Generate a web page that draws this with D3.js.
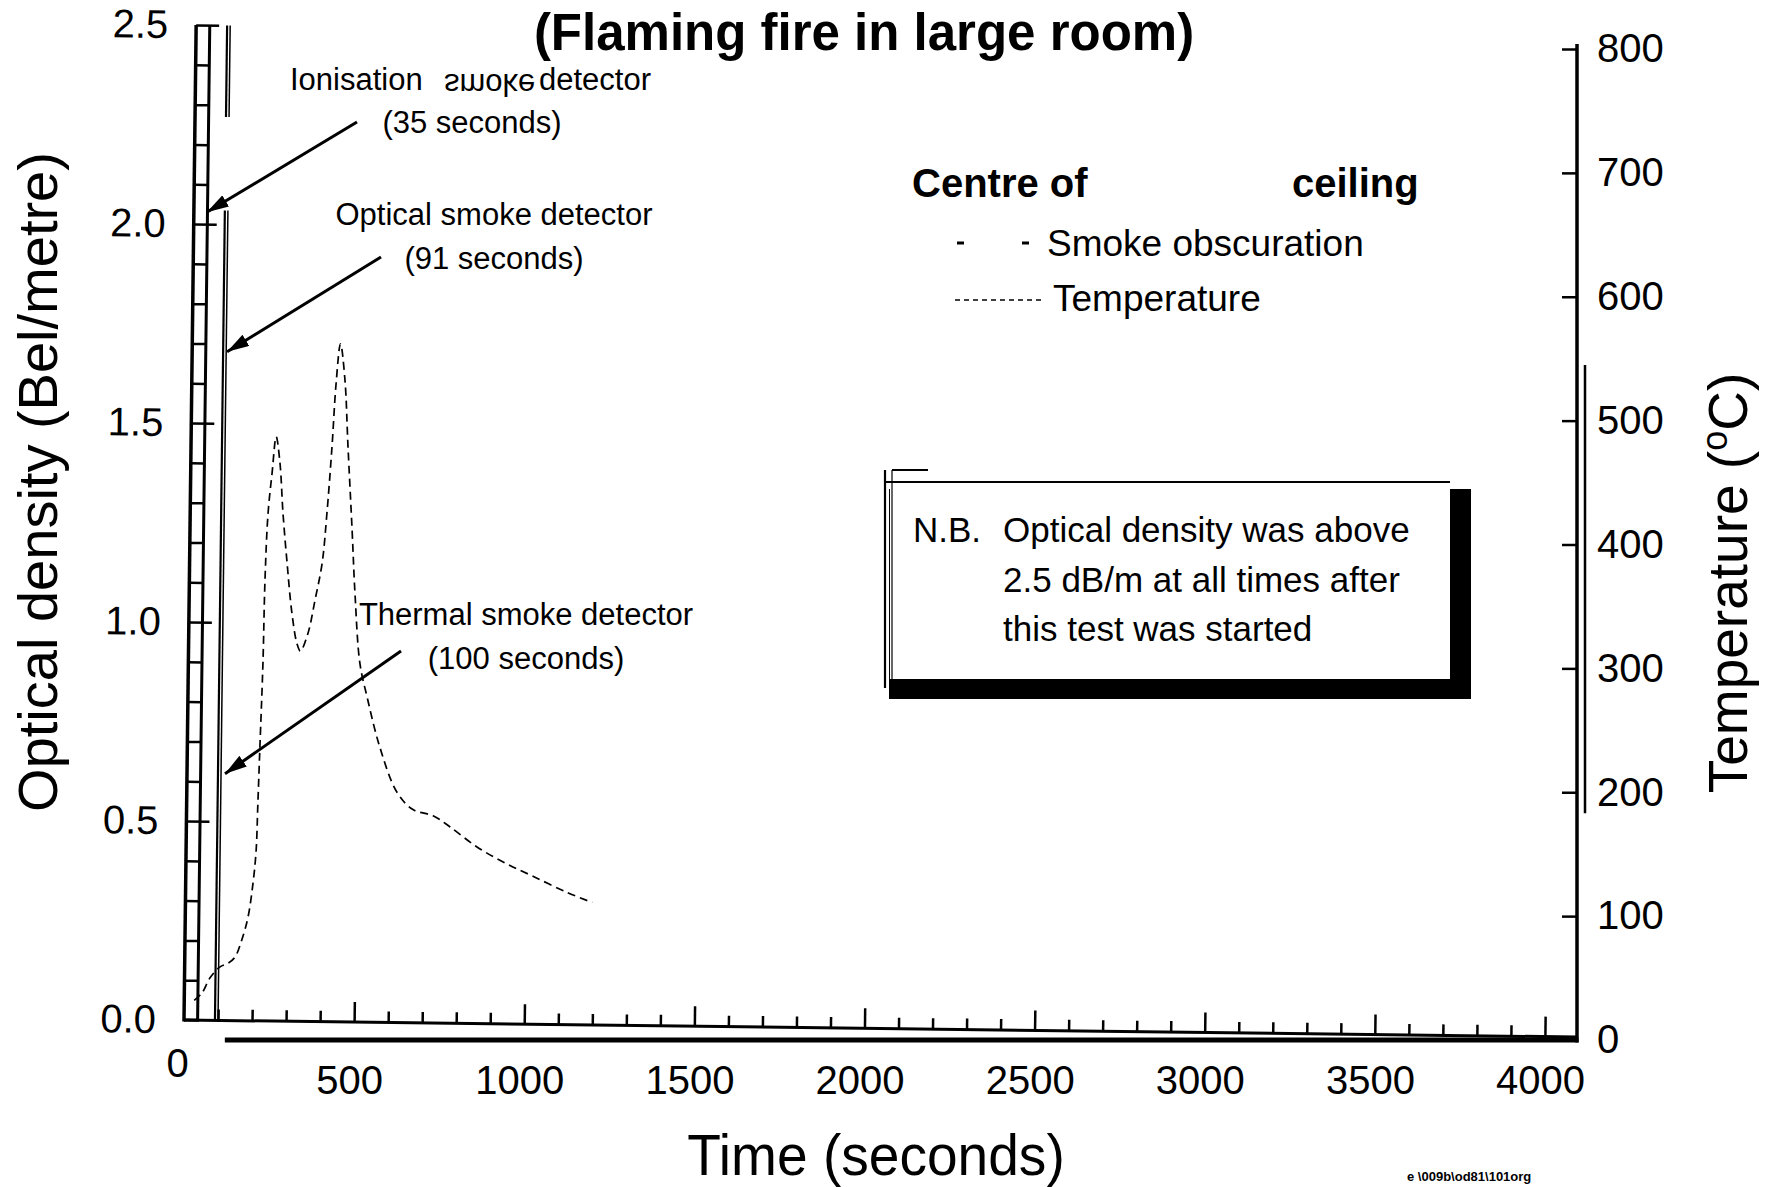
<!DOCTYPE html>
<html><head><meta charset="utf-8">
<script src="https://cdn.jsdelivr.net/npm/d3@7"></script>
<style>
body{margin:0;background:#fff;}
svg{display:block;font-family:"Liberation Sans",Arial,sans-serif;}
</style></head><body>
<svg id="chart" width="1779" height="1187"></svg>
<script>
// ---------------- data ----------------
const titleText = "(Flaming fire in large room)";
const xTitle = "Time (seconds)";
const yLeftTitle = "Optical density (Bel/metre)";
const timeTicks = [0, 500, 1000, 1500, 2000, 2500, 3000, 3500, 4000];
const odTicks = [0, 0.5, 1.0, 1.5, 2.0, 2.5];
const tempTicks = [0, 100, 200, 300, 400, 500, 600, 700, 800];
// Temperature at centre of ceiling (deg C) against time (s)
const tempTime  = [30, 53, 76, 106, 130, 150, 170, 188, 203, 212, 217, 223, 232, 238, 247, 259, 271, 282, 291, 303, 317, 332, 342, 364, 385, 406, 420, 435, 447, 460, 473, 482, 494, 503, 517, 538, 576, 626, 673, 732, 782, 860, 943, 1027, 1127, 1200];
const tempValue = [32, 38, 50, 59, 62, 67, 81, 99, 127, 153, 190, 236, 304, 371, 425, 458, 487, 466, 425, 385, 345, 320, 314, 328, 355, 385, 425, 479, 530, 562, 533, 479, 412, 358, 304, 277, 236, 200, 186, 181, 172, 156, 143, 132, 119, 111];
// Smoke obscuration (optical density): off scale (>2.5) almost at once
const smokeTime = [0, 40, 40];
const smokeOD   = [0, 0, 2.5];
// Detector activations
const detectorLabels = ["Ionisation smoke detector", "Optical smoke detector", "Thermal smoke detector"];
const detectorTimes  = [35, 91, 100];
const detectorArrowOD = [2.03, 1.68, 0.62];
const legendLabels = ["Smoke obscuration", "Temperature"];
const noteLines = ["Optical density was above", "2.5 dB/m at all times after", "this test was started"];

// ---------------- drawing ----------------
const W = 1779, H = 1187;
const svg = d3.select("#chart");
svg.append("rect").attr("width", W).attr("height", H).attr("fill", "#fff");

const x  = d3.scaleLinear().domain([0, 4000]).range([184, 1545]);
const yL = d3.scaleLinear().domain([0, 2.5]).range([1020, 25]);
const yR = d3.scaleLinear().domain([0, 800]).range([1040, 49]);
const rightX = 1577;

// scanned original is slightly rotated
const rotDeg = 0.7, ox = x(0), oy = yL(0), rad = rotDeg * Math.PI / 180;
function rot(px, py) {
  const dx = px - ox, dy = py - oy;
  return [ox + dx * Math.cos(rad) - dy * Math.sin(rad), oy + dx * Math.sin(rad) + dy * Math.cos(rad)];
}

const defs = svg.append("defs");
defs.append("marker").attr("id", "ah").attr("viewBox", "0 0 10 10")
  .attr("refX", 10).attr("refY", 5).attr("markerWidth", 22).attr("markerHeight", 13)
  .attr("markerUnits", "userSpaceOnUse").attr("orient", "auto")
  .attr("preserveAspectRatio", "none")
  .append("path").attr("d", "M0,0L10,5L0,10Z").attr("fill", "#000");

function styleAxis(g, sw) {
  g.select(".domain").remove();
  g.selectAll(".tick line").attr("stroke", "#000").attr("stroke-width", sw);
  g.selectAll("text").attr("fill", "#000");
}

// ---- rotated plot group ----
const plot = svg.append("g").attr("transform", `rotate(${rotDeg},${ox},${oy})`);

// left axis ladder (minor rungs reach the smoke obscuration rail)
const odMinor = d3.range(1, 25).map(i => i / 10).filter(v => Math.round(v * 10) % 5 !== 0);
plot.append("g").attr("transform", `translate(${x(0)},0)`)
  .call(d3.axisRight(yL).tickValues(odMinor).tickSize(x(smokeTime[1]) - x(0)).tickFormat(""))
  .call(g => styleAxis(g, 2.5));
plot.append("g").attr("transform", `translate(${x(0)},0)`)
  .call(d3.axisRight(yL).tickValues(odTicks.filter(v => v > 0)).tickSize(23).tickFormat(""))
  .call(g => styleAxis(g, 2.5));
plot.append("g").attr("transform", `translate(${x(0)},0)`)
  .attr("font-family", "'Liberation Sans',Arial,sans-serif")
  .call(d3.axisLeft(yL).tickValues(odTicks).tickSize(0).tickPadding(28).tickFormat(d3.format(".1f")))
  .call(g => styleAxis(g, 0))
  .attr("font-size", 40);
plot.append("line").attr("x1", x(0)).attr("x2", x(0)).attr("y1", yL(0) + 1.5).attr("y2", yL(2.5))
  .attr("stroke", "#000").attr("stroke-width", 3.5);

// smoke obscuration rail
plot.append("path").datum(smokeTime.map((t, i) => [t, smokeOD[i]]))
  .attr("d", d3.line().x(d => x(d[0])).y(d => yL(d[1])))
  .attr("fill", "none").attr("stroke", "#000").attr("stroke-width", 3);

// detector activation lines (optical, thermal)
detectorTimes.slice(1).forEach((t, i) => {
  [[0, 2.035], [2.27, 2.5]].forEach(([a, b]) => {
    plot.append("line").attr("x1", x(t)).attr("x2", x(t)).attr("y1", yL(a)).attr("y2", yL(b))
      .attr("stroke", "#000").attr("stroke-width", i === 0 ? 2.2 : 1.5);
  });
});

// x axis ticks (upwards)
const timeMinor = d3.range(100, 4001, 100).filter(v => v % 500 !== 0);
plot.append("g").attr("transform", `translate(0,${yL(0)})`)
  .call(d3.axisTop(x).tickValues(timeMinor).tickSize(11).tickFormat(""))
  .call(g => styleAxis(g, 2.5));
plot.append("g").attr("transform", `translate(0,${yL(0)})`)
  .call(d3.axisTop(x).tickValues(timeTicks.filter(v => v > 0)).tickSize(20).tickFormat(""))
  .call(g => styleAxis(g, 2.5));
plot.append("line").attr("x1", x(0)).attr("x2", rightX).attr("y1", yL(0)).attr("y2", yL(0))
  .attr("stroke", "#000").attr("stroke-width", 3);

// ---- unrotated frame ----
// bottom frame line
svg.append("line").attr("x1", x(120)).attr("x2", rightX + 1.5).attr("y1", yR(0)).attr("y2", yR(0))
  .attr("stroke", "#000").attr("stroke-width", 5);
// x tick labels
svg.append("g").attr("transform", `translate(0,${yR(0)})`)
  .call(d3.axisBottom(x).tickValues(timeTicks).tickSize(0).tickPadding(26).tickFormat(d3.format("d")))
  .call(g => styleAxis(g, 0))
  .attr("font-size", 40).attr("font-family", "'Liberation Sans',Arial,sans-serif")
  .call(g => g.selectAll("text").attr("dx", -5))
  .call(g => g.selectAll("text").filter(d => d === 0).attr("dx", -7).attr("y", 9));

// right temperature axis
svg.append("g").attr("transform", `translate(${rightX},0)`)
  .call(d3.axisRight(yR).tickValues(tempTicks).tickSizeInner(-15).tickSizeOuter(0).tickPadding(20))
  .call(g => styleAxis(g, 2.5))
  .attr("font-size", 40).attr("font-family", "'Liberation Sans',Arial,sans-serif")
  .call(g => g.selectAll("text").attr("text-anchor", "start"));
svg.append("line").attr("x1", rightX).attr("x2", rightX).attr("y1", yR(0) + 2.5).attr("y2", yR(800) - 5)
  .attr("stroke", "#000").attr("stroke-width", 3.5);
svg.append("line").attr("x1", rightX + 8).attr("x2", rightX + 8).attr("y1", yR(545)).attr("y2", yR(183))
  .attr("stroke", "#000").attr("stroke-width", 2.5);

// temperature curve
svg.append("path").datum(tempTime.map((t, i) => [t, tempValue[i]]))
  .attr("d", d3.line().x(d => x(d[0])).y(d => yR(d[1])).curve(d3.curveCatmullRom.alpha(0.5)))
  .attr("fill", "none").attr("stroke", "#000").attr("stroke-width", 1.7).attr("stroke-dasharray", "8 5");

// title
svg.append("text").attr("x", 864).attr("y", 50).attr("text-anchor", "middle")
  .attr("font-size", 51).attr("font-weight", "bold").text(titleText);

// axis titles
svg.append("text").attr("transform", "translate(876,1175) scale(0.95,1)").attr("text-anchor", "middle")
  .attr("font-size", 58).text(xTitle);
svg.append("text").attr("transform", "translate(57,482) rotate(-90)").attr("text-anchor", "middle")
  .attr("font-size", 56).text(yLeftTitle);
const rt = svg.append("text").attr("transform", "translate(1747,583) rotate(-90)").attr("text-anchor", "middle")
  .attr("font-size", 55);
rt.append("tspan").text("Temperature (");
rt.append("tspan").attr("dy", -20).attr("font-size", 36).text("o");
rt.append("tspan").attr("dy", 20).text("C)");

// annotations
const annFont = 31;
// ionisation: "smoke" appears mirrored in the original scan
const ionWords = detectorLabels[0].split(" ");
svg.append("text").attr("x", 290).attr("y", 90).attr("font-size", annFont).text(ionWords[0]);
svg.append("text").attr("transform", "translate(444,74) scale(1,-1)").attr("font-size", annFont).text(ionWords[1]);
svg.append("text").attr("x", 539).attr("y", 90).attr("font-size", annFont).text(ionWords[2]);
svg.append("text").attr("x", 472).attr("y", 133).attr("text-anchor", "middle").attr("font-size", annFont)
  .text(`(${detectorTimes[0]} seconds)`);

svg.append("text").attr("x", 494).attr("y", 225).attr("text-anchor", "middle").attr("font-size", annFont).text(detectorLabels[1]);
svg.append("text").attr("x", 494).attr("y", 269).attr("text-anchor", "middle").attr("font-size", annFont).text(`(${detectorTimes[1]} seconds)`);
svg.append("text").attr("x", 526).attr("y", 625).attr("text-anchor", "middle").attr("font-size", annFont).text(detectorLabels[2]);
svg.append("text").attr("x", 526).attr("y", 669).attr("text-anchor", "middle").attr("font-size", annFont).text(`(${detectorTimes[2]} seconds)`);

const arrowTails = [[357, 122], [381, 257], [401, 651]];
const tipOffsets = [1, 4, 4];
detectorTimes.forEach((t, i) => {
  const tip = rot(x(t) + tipOffsets[i], yL(detectorArrowOD[i]));
  svg.append("line").attr("x1", arrowTails[i][0]).attr("y1", arrowTails[i][1])
    .attr("x2", tip[0]).attr("y2", tip[1])
    .attr("stroke", "#000").attr("stroke-width", 3).attr("marker-end", "url(#ah)");
});

// legend
svg.append("text").attr("x", 912).attr("y", 197).attr("font-size", 40).attr("font-weight", "bold").text("Centre of");
svg.append("text").attr("x", 1292).attr("y", 197).attr("font-size", 40).attr("font-weight", "bold").text("ceiling");
const legendY = [243, 300];
const legendStyles = [{dash: "7 58", w: 3, x1: 957, x2: 1030}, {dash: "5 4", w: 1.7, x1: 955, x2: 1042}];
const legendTextX = [1047, 1053];
const legendTextY = [256, 311];
legendLabels.forEach((lab, i) => {
  svg.append("line").attr("x1", legendStyles[i].x1).attr("x2", legendStyles[i].x2)
    .attr("y1", legendY[i]).attr("y2", legendY[i]).attr("stroke", "#000")
    .attr("stroke-width", legendStyles[i].w).attr("stroke-dasharray", legendStyles[i].dash);
  svg.append("text").attr("x", legendTextX[i]).attr("y", legendTextY[i]).attr("font-size", 37).text(lab);
});

// N.B. box
svg.append("rect").attr("x", 889).attr("y", 489).attr("width", 582).attr("height", 210).attr("fill", "#000");
svg.append("rect").attr("x", 890).attr("y", 482).attr("width", 560).attr("height", 197).attr("fill", "#fff");
svg.append("line").attr("x1", 885).attr("x2", 1450).attr("y1", 482).attr("y2", 482).attr("stroke", "#000").attr("stroke-width", 2);
svg.append("line").attr("x1", 885).attr("x2", 885).attr("y1", 470).attr("y2", 688).attr("stroke", "#000").attr("stroke-width", 2.2);
svg.append("line").attr("x1", 892).attr("x2", 892).attr("y1", 470).attr("y2", 680).attr("stroke", "#000").attr("stroke-width", 1.2);
svg.append("line").attr("x1", 892).attr("x2", 928).attr("y1", 470).attr("y2", 470).attr("stroke", "#000").attr("stroke-width", 2);
svg.append("text").attr("x", 913).attr("y", 542).attr("font-size", 35).text("N.B.");
const noteY = [542, 592, 641];
noteLines.forEach((ln, i) => {
  svg.append("text").attr("x", 1003).attr("y", noteY[i]).attr("font-size", 35).text(ln);
});

// scan reference
svg.append("text").attr("x", 1407).attr("y", 1181).attr("font-size", 13).attr("font-weight", "bold")
  .text("e \\009b\\od81\\101org");
</script>
</body></html>
